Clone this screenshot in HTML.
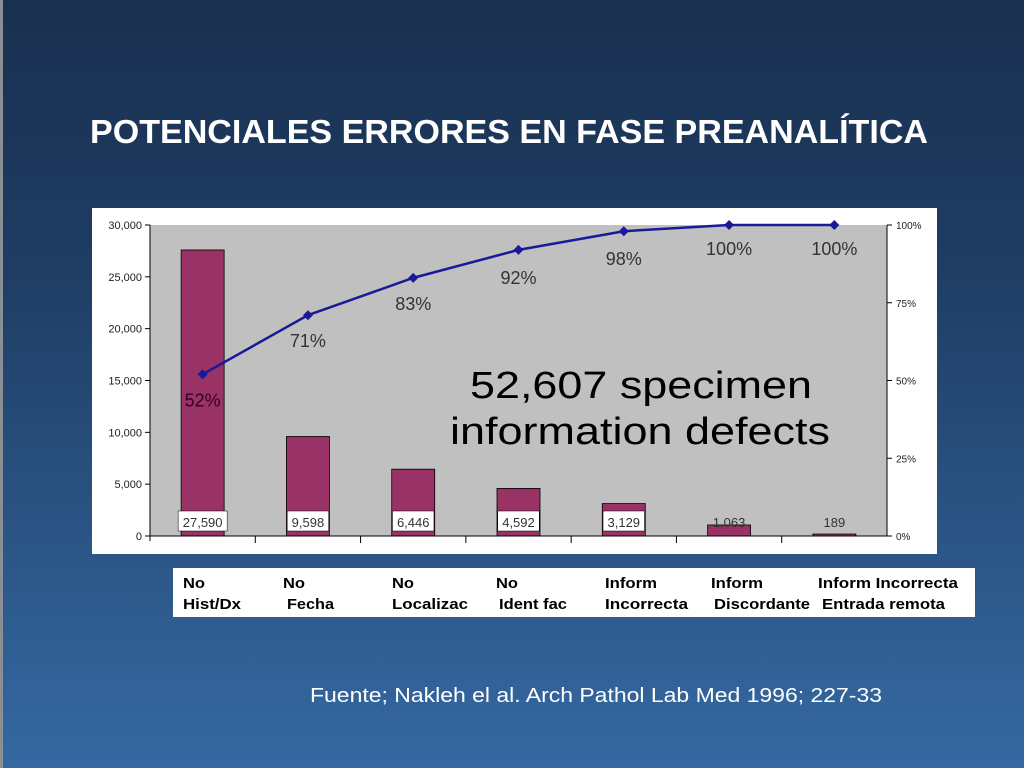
<!DOCTYPE html>
<html><head><meta charset="utf-8"><style>html,body{margin:0;padding:0;width:1024px;height:768px;overflow:hidden}svg{display:block}</style></head>
<body>
<svg width="1024" height="768" xmlns="http://www.w3.org/2000/svg" font-family="Liberation Sans, Arial, sans-serif">
<defs><linearGradient id="bg" x1="0" y1="0" x2="0" y2="1"><stop offset="0" stop-color="#1a3050"/><stop offset="0.35" stop-color="#1f3d64"/><stop offset="1" stop-color="#3569a2"/></linearGradient></defs>
<rect width="1024" height="768" fill="url(#bg)"/>
<rect x="0" y="0" width="3" height="768" fill="#8a8f96"/>
<text x="90" y="143" font-size="33" font-weight="bold" fill="#fff" textLength="838" lengthAdjust="spacingAndGlyphs">POTENCIALES ERRORES EN FASE PREANALÍTICA</text>
<rect x="92" y="208" width="845" height="346" fill="#fff"/>
<rect x="150" y="225" width="737" height="311" fill="#c0c0c0"/>
<text x="470" y="398" font-size="38" fill="#000" textLength="342" lengthAdjust="spacingAndGlyphs">52,607 specimen</text>
<text x="450" y="444" font-size="38" fill="#000" textLength="380" lengthAdjust="spacingAndGlyphs">information defects</text>
<g id="chart"></g>
<rect x="173" y="568" width="802" height="49" fill="#fff"/>
<g font-size="15" font-weight="bold" fill="#000">
<text x="183" y="588" textLength="22" lengthAdjust="spacingAndGlyphs">No</text><text x="183" y="609" textLength="58" lengthAdjust="spacingAndGlyphs">Hist/Dx</text>
<text x="283" y="588" textLength="22" lengthAdjust="spacingAndGlyphs">No</text><text x="287" y="609" textLength="47" lengthAdjust="spacingAndGlyphs">Fecha</text>
<text x="392" y="588" textLength="22" lengthAdjust="spacingAndGlyphs">No</text><text x="392" y="609" textLength="76" lengthAdjust="spacingAndGlyphs">Localizac</text>
<text x="496" y="588" textLength="22" lengthAdjust="spacingAndGlyphs">No</text><text x="499" y="609" textLength="68" lengthAdjust="spacingAndGlyphs">Ident fac</text>
<text x="605" y="588" textLength="52" lengthAdjust="spacingAndGlyphs">Inform</text><text x="605" y="609" textLength="83" lengthAdjust="spacingAndGlyphs">Incorrecta</text>
<text x="711" y="588" textLength="52" lengthAdjust="spacingAndGlyphs">Inform</text><text x="714" y="609" textLength="96" lengthAdjust="spacingAndGlyphs">Discordante</text>
<text x="818" y="588" textLength="140" lengthAdjust="spacingAndGlyphs">Inform Incorrecta</text><text x="822" y="609" textLength="123" lengthAdjust="spacingAndGlyphs">Entrada remota</text>
</g>
<text x="310" y="702" font-size="20" fill="#fff" textLength="572" lengthAdjust="spacingAndGlyphs">Fuente;  Nakleh el al. Arch Pathol Lab Med 1996; 227-33</text>
</svg>
<script>
const categories=["No Hist/Dx","No Fecha","No Localizac","No Ident fac","Inform Incorrecta","Inform Discordante","Inform Incorrecta Entrada remota"];
const counts=[27590,9598,6446,4592,3129,1063,189];
const countLabels=["27,590","9,598","6,446","4,592","3,129","1,063","189"];
const cumPct=[52,71,83,92,98,100,100];
const leftTicks=[0,5000,10000,15000,20000,25000,30000];
const leftTickLabels=["0","5,000","10,000","15,000","20,000","25,000","30,000"];
const rightTicks=[0,25,50,75,100];
const NS="http://www.w3.org/2000/svg";
const X0=150,X1=887,Y0=536,Y1=225;
const band=(X1-X0)/categories.length;
const xc=i=>X0+band*(i+0.5);
const yL=v=>Y0-(v/30000)*(Y0-Y1);
const yR=p=>Y0-(p/100)*(Y0-Y1);
const g=document.getElementById('chart');
function mk(t,a,txt){const e=document.createElementNS(NS,t);for(const k in a)e.setAttribute(k,a[k]);if(txt!=null)e.textContent=txt;g.appendChild(e);return e;}
let e;
counts.forEach((v,i)=>{
 const w=43,x=xc(i)-w/2,y=yL(v);
 e=mk('rect',{x:x,y:y,width:w,height:Y0-y,fill:'#993366',stroke:'#000','stroke-width':0.8});
 
 
 const lw=countLabels[i].length*7.5+4;
 if(i<5){e=mk('rect',{x:xc(i)-lw/2,y:511,width:lw,height:20,fill:'#fff',stroke:'#000','stroke-width':0.5});
 
 }
 e=mk('text',{x:xc(i),y:527,'font-size':13,'text-anchor':'middle',fill:'#333'},countLabels[i]);
 
 
});
e=mk('line',{x1:X0,y1:Y1,x2:X0,y2:Y0+5,stroke:'#000','stroke-width':1});


e=mk('line',{x1:X1,y1:Y1,x2:X1,y2:Y0,stroke:'#000','stroke-width':1});


e=mk('line',{x1:X0,y1:Y0,x2:X1,y2:Y0,stroke:'#000','stroke-width':1});


leftTicks.forEach((v,i)=>{
 mk('line',{x1:X0-5,y1:yL(v),x2:X0,y2:yL(v),stroke:'#000'});
 e=mk('text',{x:X0-8,y:yL(v)+4,'font-size':11,'text-anchor':'end',fill:'#222'},leftTickLabels[i]);
 
 
});
rightTicks.forEach(p=>{
 mk('line',{x1:X1,y1:yR(p),x2:X1+5,y2:yR(p),stroke:'#000'});
 e=mk('text',{x:X1+9,y:yR(p)+4,'font-size':10,fill:'#222'},p+'%');
 
 
});
for(let i=1;i<categories.length;i++){mk('line',{x1:X0+band*i,y1:Y0,x2:X0+band*i,y2:Y0+7,stroke:'#000'});}
e=mk('polyline',{points:cumPct.map((p,i)=>xc(i)+','+yR(p)).join(' '),fill:'none',stroke:'#1a1a99','stroke-width':2.5});


cumPct.forEach((p,i)=>{
 const x=xc(i),y=yR(p);
 e=mk('polygon',{points:`${x},${y-5} ${x+5},${y} ${x},${y+5} ${x-5},${y}`,fill:'#1a1a99'});
 
 
 e=mk('text',{x:x,y:y+(i<3?32:i<5?34:30),'font-size':18,'text-anchor':'middle',fill:i==0?'#330022':'#333'},p+'%');
 
 
});
</script>
</body></html>
